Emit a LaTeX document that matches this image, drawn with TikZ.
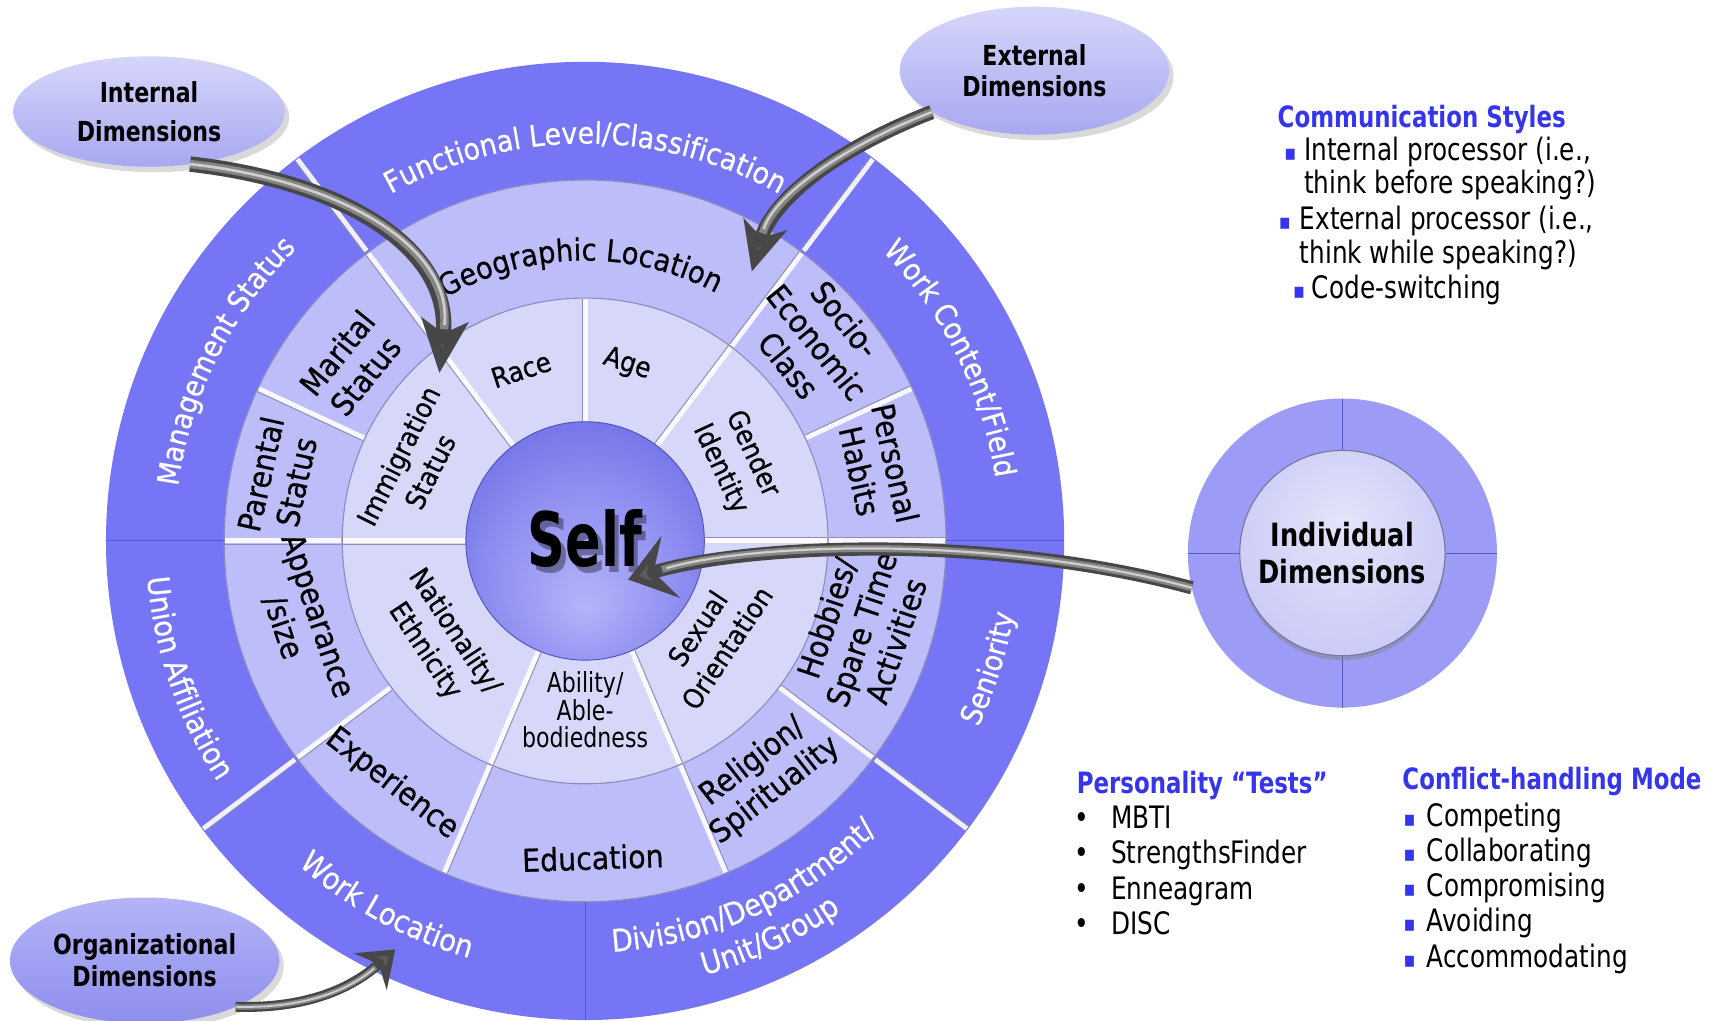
\documentclass[tikz,border=0pt]{standalone}
\usepackage{fontspec}
\setmainfont{DejaVu Sans}
\newfontfamily\wheelfont[FakeStretch=0.9, FakeBold=0.6]{DejaVu Sans}
\newfontfamily\narrowfont[FakeStretch=0.8]{DejaVu Sans}
\newfontfamily\headfont[FakeStretch=0.78]{DejaVu Sans}
\newfontfamily\selffont[FakeStretch=0.7]{DejaVu Sans}
\usetikzlibrary{decorations.text,arrows.meta,shapes.geometric,shadows}

\definecolor{orgring}{HTML}{7575F5}
\definecolor{extring}{HTML}{BDBDF9}
\definecolor{intring}{HTML}{D7D7FA}
\definecolor{ringedge}{HTML}{8A8AC4}
\definecolor{sepgray}{HTML}{8C8CB8}
\definecolor{sepdark}{HTML}{5858C8}
\definecolor{selfin}{HTML}{B4B4F9}
\definecolor{selfmid}{HTML}{8E8EF1}
\definecolor{selfout}{HTML}{6464E4}
\definecolor{bubtop}{HTML}{D6D6FA}
\definecolor{bubbot}{HTML}{A8A8F1}
\definecolor{orgtop}{HTML}{B4B4F7}
\definecolor{orgbot}{HTML}{8E8EEE}
\definecolor{indring}{HTML}{9C9CF6}
\definecolor{indin}{HTML}{E4E4FB}
\definecolor{indmid}{HTML}{CACAF6}
\definecolor{indedge}{HTML}{A8A8E6}
\definecolor{headblue}{HTML}{3535EE}
\definecolor{tubedark}{HTML}{474747}
\definecolor{tubemid}{HTML}{858585}
\definecolor{tubehi}{HTML}{CFCFCF}
\definecolor{tubehead}{HTML}{5C5C5C}

\pgfdeclareradialshading{selfball}{\pgfpoint{0bp}{-14bp}}{%
  color(0bp)=(selfin); color(20bp)=(selfmid); color(38bp)=(selfout); color(50bp)=(selfout)}
\pgfdeclareradialshading{indball}{\pgfpoint{0bp}{8bp}}{%
  color(0bp)=(indin); color(30bp)=(indmid); color(45bp)=(indedge); color(50bp)=(indedge)}

\tikzset{
  ring label/.style={inner sep=0pt, align=center, font=\wheelfont\fontsize{14.3}{16.5}\selectfont},
  core label/.style={inner sep=0pt, align=center, font=\wheelfont\fontsize{12.5}{16}\selectfont},
  bubble/.style={ellipse, inner sep=0pt, outer sep=0pt, top color=bubtop, bottom color=bubbot,
    drop shadow={opacity=0.3, shadow xshift=2pt, shadow yshift=-2.5pt}, align=center},
  list head/.style={anchor=mid west, inner sep=0pt, text=headblue,
    font=\headfont\bfseries\fontsize{13.3}{16}\selectfont},
  list item/.style={anchor=mid west, inner sep=0pt, font=\narrowfont\fontsize{14}{16}\selectfont},
  square bullet/.style={anchor=mid west, inner sep=0pt, text=headblue,
    font=\narrowfont\fontsize{10}{12}\selectfont},
  sep light/.style={white, line width=2.2pt, opacity=0.9},
  sep shade/.style={sepgray, line width=0.4pt},
  tube/.style={draw=tubedark},
  tube mid/.style={draw=tubemid},
  tube hi/.style={draw=tubehi},
  arc text/.style={decorate, decoration={text along path, text align=center, text={#1}}},
}

\begin{document}
\begin{tikzpicture}[x=0.5pt,y=0.5pt]
\useasboundingbox (0,0) rectangle (1568,924);
\coordinate (c) at (530,434);

% ---------- the three rings ----------
\begin{scope}[shift={(c)}]
  \fill[orgring] (0,0) circle[radius=434];
  \fill[extring] (0,0) circle[radius=327];
  \draw[ringedge, line width=0.6pt] (0,0) circle[radius=327];
  \fill[intring] (0,0) circle[radius=220];
  \draw[ringedge, line width=0.5pt] (0,0) circle[radius=220];

  % organizational ring dividers
  \foreach \a in {53,127,-37,-143}{
    \draw[sep light] (\a:329) -- (\a:433);
    \draw[sep shade, shift={(\a+90:2.8)}] (\a:329) -- (\a:433);
  }
  \foreach \a in {0,180,-90}
    \draw[sepdark, line width=0.5pt] (\a:327) -- (\a:434);

  % external ring dividers
  \foreach \a in {53,127,155,180,-143,-113,-67,-37,0,25}{
    \draw[sep light] (\a:221) -- (\a:326);
    \draw[sep shade, shift={(\a+90:2.8)}] (\a:221) -- (\a:326);
  }

  % internal ring dividers
  \foreach \a in {53,90,127,180,-113,-67,0}{
    \draw[sep light] (\a:108) -- (\a:219);
    \draw[sep shade, shift={(\a+90:2.8)}] (\a:108) -- (\a:219);
  }

  % organizational dimensions, set along the ring
  \path[arc text={|\color{white}\wheelfont\fontsize{13.5}{16}\selectfont|Functional Level/Classification}]
    (130:360) arc[start angle=130, end angle=50, radius=360];
  \path[arc text={|\color{white}\wheelfont\fontsize{13.5}{16}\selectfont|Management Status}]
    (193.5:372) arc[start angle=193.5, end angle=113.5, radius=372];
  \path[arc text={|\color{white}\wheelfont\fontsize{13.5}{16}\selectfont|Work Content/Field}]
    (66.5:376) arc[start angle=66.5, end angle=-13.5, radius=376];
  \path[arc text={|\color{white}\wheelfont\fontsize{13.5}{16}\selectfont|Seniority}]
    (-57.5:394) arc[start angle=-57.5, end angle=22.5, radius=394];
  \path[arc text={|\color{white}\wheelfont\fontsize{14}{16}\selectfont|Division/Department/}]
    (-115:373) arc[start angle=-115, end angle=-16, radius=373];
  \path[arc text={|\color{white}\wheelfont\fontsize{14}{16}\selectfont|Unit/Group}]
    (-105:408) arc[start angle=-105, end angle=-25, radius=408];
  \path[arc text={|\color{white}\wheelfont\fontsize{13.8}{16}\selectfont|Work Location}]
    (-160:392) arc[start angle=-160, end angle=-77, radius=392];
  \path[arc text={|\color{white}\wheelfont\fontsize{13.8}{16}\selectfont|Union Affiliation}]
    (-200:398) arc[start angle=-200, end angle=-122, radius=398];

  % external dimension set along the ring
  \path[arc text={|\wheelfont\fontsize{13.8}{16}\selectfont|Geographic Location}]
    (141:254) arc[start angle=141, end angle=41, radius=254];
\end{scope}

% ---------- centre ----------
\node[circle, minimum size=108pt, inner sep=0pt, shading=selfball, draw=selfout!80!black, line width=0.4pt] (self) at (c) {};
\node[font=\selffont\bfseries\fontsize{34}{34}\selectfont, text=black, opacity=0.35] (selfshade) at (534,431) {Self};
\node[font=\selffont\bfseries\fontsize{34}{34}\selectfont] (selflabel) at (530,436) {Self};

% ---------- internal dimensions ----------
\node[core label, rotate=18] (race) at (472,589) {Race};
\node[core label, rotate=-18] (age) at (568,594) {Age};
\node[core label, rotate=-65] (gender) at (667,506) {Gender\\Identity};
\node[core label, rotate=56.5] (sexual) at (645,346) {Sexual\\Orientation};
\node[inner sep=0pt, align=center, font=\narrowfont\fontsize{12.5}{12.5}\selectfont] (ability) at (530,281) {Ability/\\Able-\\bodiedness};
\node[core label, rotate=-56.5] (nation) at (398,343) {Nationality/\\Ethnicity};
\node[core label, rotate=63.5] (immig) at (375,504) {Immigration\\Status};

% ---------- external dimensions ----------
\node[ring label, rotate=51] (marital) at (318,594) {Marital\\Status};
\node[ring label, rotate=77.5] (parental) at (252,491) {Parental\\Status};
\node[ring label, rotate=-71.5] (appear) at (272,361) {Appearance\\/size};
\node[ring label, rotate=-38] (exper) at (355,214) {Experience};
\node[ring label, rotate=2] (educ) at (537,147) {Education};
\node[ring label, rotate=38] (relig) at (692,221) {Religion/\\Spirituality};
\node[ring label, rotate=71.5] (hobby) at (780,354) {Hobbies/\\Spare Time\\Activities};
\node[ring label, rotate=-77.5] (habits) at (795,501) {Personal\\Habits};
\node[ring label, rotate=-51] (socio) at (740,614) {Socio-\\Economic\\Class};

% ---------- callout bubbles ----------
\node[bubble, minimum width=123pt, minimum height=50pt,
      font=\narrowfont\bfseries\fontsize{12.5}{17.5}\selectfont] (ib) at (135,823) {Internal\\Dimensions};
\node[bubble, minimum width=122pt, minimum height=58pt,
      font=\narrowfont\bfseries\fontsize{12.5}{14}\selectfont] (eb) at (937,860) {External\\Dimensions};
\node[bubble, top color=orgtop, bottom color=orgbot, minimum width=122pt, minimum height=57pt,
      font=\narrowfont\bfseries\fontsize{12.5}{14.5}\selectfont] (ob) at (131,54) {Organizational\\Dimensions};

% individual dimensions badge
\node[circle, minimum size=140pt, inner sep=0pt, outer sep=0pt, fill=indring] (ind) at (1216,423) {};
\foreach \a in {0,90,180,270}
  \draw[sepdark, line width=0.5pt] (ind.\a) -- (ind.center);
\node[circle, minimum size=93pt, inner sep=0pt, outer sep=0pt, shading=indball,
      draw=indedge!70!black, line width=0.5pt,
      drop shadow={opacity=0.45, shadow xshift=0pt, shadow yshift=-2pt},
      align=center, font=\narrowfont\bfseries\fontsize{14.5}{17}\selectfont] (indcore) at (ind) {Individual\\Dimensions};

% ---------- arrows ----------
\coordinate (tipint) at (398,586);
\coordinate (tipext) at (681,678);
\coordinate (tipself) at (569,399);
\coordinate (tiporg) at (358,64);

\draw[tube, line width=7pt, -{Stealth[length=24pt, width=21pt, inset=6pt, fill=tubehead]}]
  (ib.-52) .. controls (310,760) and (410,700) .. (tipint);
\draw[tube mid, line width=3.8pt, shorten >=20pt] (ib.-52) .. controls (310,760) and (410,700) .. (tipint);
\draw[tube hi, line width=1.2pt, shorten >=22pt] (ib.-52) .. controls (310,760) and (410,700) .. (tipint);

\draw[tube, line width=6.5pt, -{Stealth[length=22pt, width=20pt, inset=6pt, fill=tubehead]}]
  (eb.202) .. controls (760,790) and (700,745) .. (tipext);
\draw[tube mid, line width=3.5pt, shorten >=18pt] (eb.202) .. controls (760,790) and (700,745) .. (tipext);
\draw[tube hi, line width=1.1pt, shorten >=20pt] (eb.202) .. controls (760,790) and (700,745) .. (tipext);

\draw[tube, line width=6pt, -{Stealth[length=20pt, width=29pt, inset=8pt, fill=tubehead]}]
  (ind.193) .. controls (900,440) and (680,432) .. (tipself);
\draw[tube mid, line width=3.2pt, shorten >=16pt] (ind.193) .. controls (900,440) and (680,432) .. (tipself);
\draw[tube hi, line width=1pt, shorten >=18pt] (ind.193) .. controls (900,440) and (680,432) .. (tipself);

\draw[tube, line width=4.5pt, -{Stealth[length=15pt, width=22pt, inset=5pt, fill=tubehead]}]
  (ob.-27) .. controls (280,10) and (320,30) .. (tiporg);
\draw[tube mid, line width=2.4pt, shorten >=12pt] (ob.-27) .. controls (280,10) and (320,30) .. (tiporg);
\draw[tube hi, line width=0.8pt, shorten >=13pt] (ob.-27) .. controls (280,10) and (320,30) .. (tiporg);

% ---------- side lists ----------
\node[list head] (comhead) at (1157,814) {Communication Styles};
\node[square bullet] (cb1) at (1163,784) {▪};
\node[list item] (ci1) at (1181,784) {Internal processor (i.e.,};
\node[list item] (ci1b) at (1181,754) {think before speaking?)};
\node[square bullet] (cb2) at (1158,722) {▪};
\node[list item] (ci2) at (1177,722) {External processor (i.e.,};
\node[list item] (ci2b) at (1177,691) {think while speaking?)};
\node[square bullet] (cb3) at (1171,659) {▪};
\node[list item] (ci3) at (1188,659) {Code-switching};

\node[list head] (pthead) at (975,211) {Personality “Tests”};
\foreach \t/\y [count=\i] in {MBTI/179, StrengthsFinder/147, Enneagram/115, DISC/83}{
  \node[list item] (ptb\i) at (973,\y) {•};
  \node[list item] (pt\i) at (1006,\y) {\t};
}

\node[list head] (cmhead) at (1270,214) {Conflict-handling Mode};
\foreach \t/\y [count=\i] in {Competing/181, Collaborating/149, Compromising/117, Avoiding/86, Accommodating/53}{
  \node[square bullet] (cmb\i) at (1271,\y) {▪};
  \node[list item] (cm\i) at (1292,\y) {\t};
}
\end{tikzpicture}
\end{document}
